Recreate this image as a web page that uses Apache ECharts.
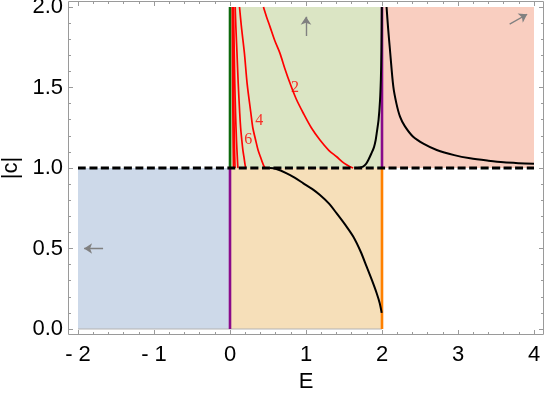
<!DOCTYPE html>
<html><head><meta charset="utf-8">
<script src="https://cdn.jsdelivr.net/npm/echarts@6/dist/echarts.min.js"></script>
<style>html,body{margin:0;padding:0;background:#fff}#c{width:545px;height:398px}</style>
</head><body><div id="c"></div>
<script>
// ---- tick labels ----
const xTicks = [-2, -1, 0, 1, 2, 3, 4];
const xTickLabels = ['- 2', '- 1', '0', '1', '2', '3', '4'];
const yTicks = [0, 0.5, 1, 1.5, 2];
const yTickLabels = ['0.0', '0.5', '1.0', '1.5', '2.0'];
const xName = 'E';
const yName = '|c|';

// ---- shaded regions [E0, c0, E1, c1] ----
const regionBlue = [-2, 0, 0, 1];
const regionOrange = [0, 0, 2, 1];
const regionGreen = [0, 1, 2, 2];
const regionRed = [2, 1, 4, 2];

// ---- straight boundary lines ----
const dashedLine = [[-2, 1], [4, 1]];
const baseLine = [[-2, 0], [2, 0]];
const purpleLow = [[0, 0], [0, 1]];
const greenUp = [[0, 1], [0, 2]];
const purpleUp = [[2, 1], [2, 2]];
const orangeLow = [[2, 0], [2, 1]];

// ---- red curves (E, |c|) ----
const red2 = [[0.44,2.0],[0.48,1.94],[0.526,1.878],[0.59,1.79],[0.658,1.712],[0.72,1.62],[0.79,1.526],[0.87,1.43],[0.965,1.34],[1.07,1.25],[1.184,1.174],[1.3,1.11],[1.404,1.07],[1.5,1.03],[1.58,1.008],[1.62,1.0]];
const red4 = [[0.125,2.0],[0.15,1.878],[0.19,1.712],[0.225,1.526],[0.275,1.34],[0.3,1.25],[0.337,1.174],[0.37,1.11],[0.4,1.07],[0.43,1.03],[0.45,1.008],[0.462,1.0]];
const red6 = [[0.068,2.0],[0.077,1.878],[0.092,1.712],[0.108,1.526],[0.128,1.34],[0.14,1.25],[0.155,1.174],[0.17,1.11],[0.183,1.07],[0.195,1.03],[0.203,1.008],[0.207,1.0]];
const red8 = [[0.046,2.0],[0.056,1.712],[0.063,1.526],[0.073,1.34],[0.085,1.174],[0.096,1.07],[0.103,1.008],[0.106,1.0]];
const red10 = [[0.037,2.0],[0.042,1.712],[0.046,1.526],[0.051,1.34],[0.057,1.174],[0.062,1.07],[0.066,1.008],[0.067,1.0]];
const red12 = [[0.03,2.0],[0.033,1.712],[0.035,1.526],[0.038,1.34],[0.041,1.174],[0.044,1.07],[0.046,1.008],[0.047,1.0]];
const redCurves = [red2, red4, red6, red8, red10, red12];

// ---- black curves (E, |c|) ----
const blackLow = [[0.526,1.0],[0.6,0.995],[0.746,0.967],[0.85,0.94],[0.965,0.905],[1.08,0.87],[1.184,0.832],[1.3,0.78],[1.404,0.718],[1.52,0.645],[1.623,0.573],[1.72,0.48],[1.798,0.387],[1.87,0.3],[1.93,0.222],[1.97,0.16],[1.996,0.1]];
const blackU = [[1.645,1.0],[1.7,1.002],[1.75,1.008],[1.79,1.025],[1.82,1.05],[1.86,1.09],[1.895,1.13],[1.917,1.174],[1.93,1.215],[1.955,1.3],[1.974,1.42],[1.985,1.55],[1.993,1.73],[1.998,2.0]];
const blackRight = [[2.06,2.0],[2.08,1.87],[2.105,1.733],[2.149,1.505],[2.19,1.4],[2.237,1.319],[2.3,1.26],[2.41,1.194],[2.55,1.15],[2.72,1.112],[2.95,1.08],[3.16,1.06],[3.4,1.045],[3.6,1.035],[3.8,1.03],[4.0,1.027]];

// ---- curve labels ----
const curveLabels = [[0.855, 1.50, '2'], [0.386, 1.294, '4'], [0.241, 1.178, '6']];

// ---- arrows [from, to] ----
const arrows = [
  [[1.0, 1.82], [1.0, 1.94]],
  [[3.68, 1.894], [3.91, 1.955]],
  [[-1.67, 0.5], [-1.92, 0.5]]
];

const chart = echarts.init(document.getElementById('c'), null, {renderer: 'canvas'});

function rectSeries(reg, color) {
  return {
    type: 'custom', z: 1, silent: true, clip: false,
    data: [reg],
    renderItem: function (params, api) {
      const p0 = api.coord([api.value(0), api.value(1)]);
      const p1 = api.coord([api.value(2), api.value(3)]);
      return {type: 'rect', shape: {x: p0[0], y: p1[1], width: p1[0] - p0[0], height: p0[1] - p1[1]},
              style: {fill: color}};
    }
  };
}
function lineSeries(data, color, width, z, dash) {
  return {type: 'line', data: data, showSymbol: false, symbol: 'none', clip: false, z: z, silent: true,
          smooth: 0.3, lineStyle: {color: color, width: width, type: dash || 'solid', cap: 'butt'}};
}
const FONT = 'Liberation Sans, Arial, sans-serif';
const frameColor = '#9a9a9a';
const series = [
  rectSeries(regionBlue, '#cdd9e9'),
  rectSeries(regionOrange, '#f6dfb9'),
  rectSeries(regionGreen, '#dbe5c4'),
  rectSeries(regionRed, '#f9cec0'),
  lineSeries(baseLine, '#b4b4b4', 1.2, 2),
  lineSeries(purpleLow, '#8a0a8a', 2.6, 3),
  lineSeries(greenUp, '#0d6a0d', 2.6, 3),
  lineSeries(purpleUp, '#8a0a8a', 2.6, 3),
  lineSeries(orangeLow, '#ff8000', 2.6, 3)
];
redCurves.forEach(c => series.push(lineSeries(c, '#ff0000', 1.7, 4)));
series.push(lineSeries(blackLow, '#000', 2, 5));
series.push(lineSeries(blackU, '#000', 2, 5));
series.push(lineSeries(blackRight, '#000', 2, 5));
series.push(lineSeries(dashedLine, '#000', 2.8, 6, [8, 3.5]));
series.push({
  type: 'scatter', data: curveLabels, symbolSize: 0, z: 7, silent: true,
  label: {show: true, position: 'inside', formatter: p => p.value[2], color: '#ff0000',
          fontFamily: 'Liberation Serif, serif', fontSize: 16}
});
series.push({
  type: 'lines', coordinateSystem: 'cartesian2d', z: 7, silent: true,
  data: arrows.map(a => ({coords: a})),
  symbol: ['none', 'arrow'], symbolSize: [0, 8],
  lineStyle: {color: '#808080', width: 1.4, opacity: 1}
});

const tickLen = 5, minorLen = 3;
function xAxis(pos, show) {
  return {
    type: 'value', position: pos, min: -2, max: 4, interval: 1, offset: 6, z: 20,
    name: show ? xName : '', nameLocation: 'middle', nameGap: 36,
    nameTextStyle: {fontFamily: FONT, fontSize: 22, color: '#000'},
    axisLine: {show: false, onZero: false},
    axisTick: {show: true, inside: true, length: tickLen, lineStyle: {color: frameColor}},
    minorTick: {show: true, splitNumber: 5, length: minorLen, lineStyle: {color: frameColor}},
    splitLine: {show: false},
    axisLabel: {show: show, margin: 9, fontFamily: FONT, fontSize: 22, color: '#000',
                formatter: v => { const i = xTicks.indexOf(v); return i >= 0 ? xTickLabels[i] : ''; }}
  };
}
function yAxis(pos, show) {
  return {
    type: 'value', position: pos, min: 0, max: 2, interval: 0.5, offset: 10, z: 20,
    name: show ? yName : '', nameLocation: 'middle', nameGap: 44, nameRotate: 90,
    nameTextStyle: {fontFamily: FONT, fontSize: 22, color: '#000'},
    axisLine: {show: false, onZero: false},
    axisTick: {show: true, inside: true, length: tickLen, lineStyle: {color: frameColor}},
    minorTick: {show: true, splitNumber: 5, length: minorLen, lineStyle: {color: frameColor}},
    splitLine: {show: false},
    axisLabel: {show: show, margin: 5, fontFamily: FONT, fontSize: 22, color: '#000',
                formatter: v => { const i = Math.round(v / 0.5); return yTickLabels[i]; }}
  };
}

chart.setOption({
  animation: false,
  grid: {left: 78, right: 11, top: 7, bottom: 69, containLabel: false, outerBoundsMode: 'none'},
  xAxis: [xAxis('bottom', true), xAxis('top', false)],
  yAxis: [yAxis('left', true), yAxis('right', false)],
  graphic: [{type: 'rect', shape: {x: 68.5, y: 1.5, width: 475, height: 333}, z: 100, silent: true,
             style: {fill: 'none', stroke: frameColor, lineWidth: 1}}],
  series: series
});
</script></body></html>
